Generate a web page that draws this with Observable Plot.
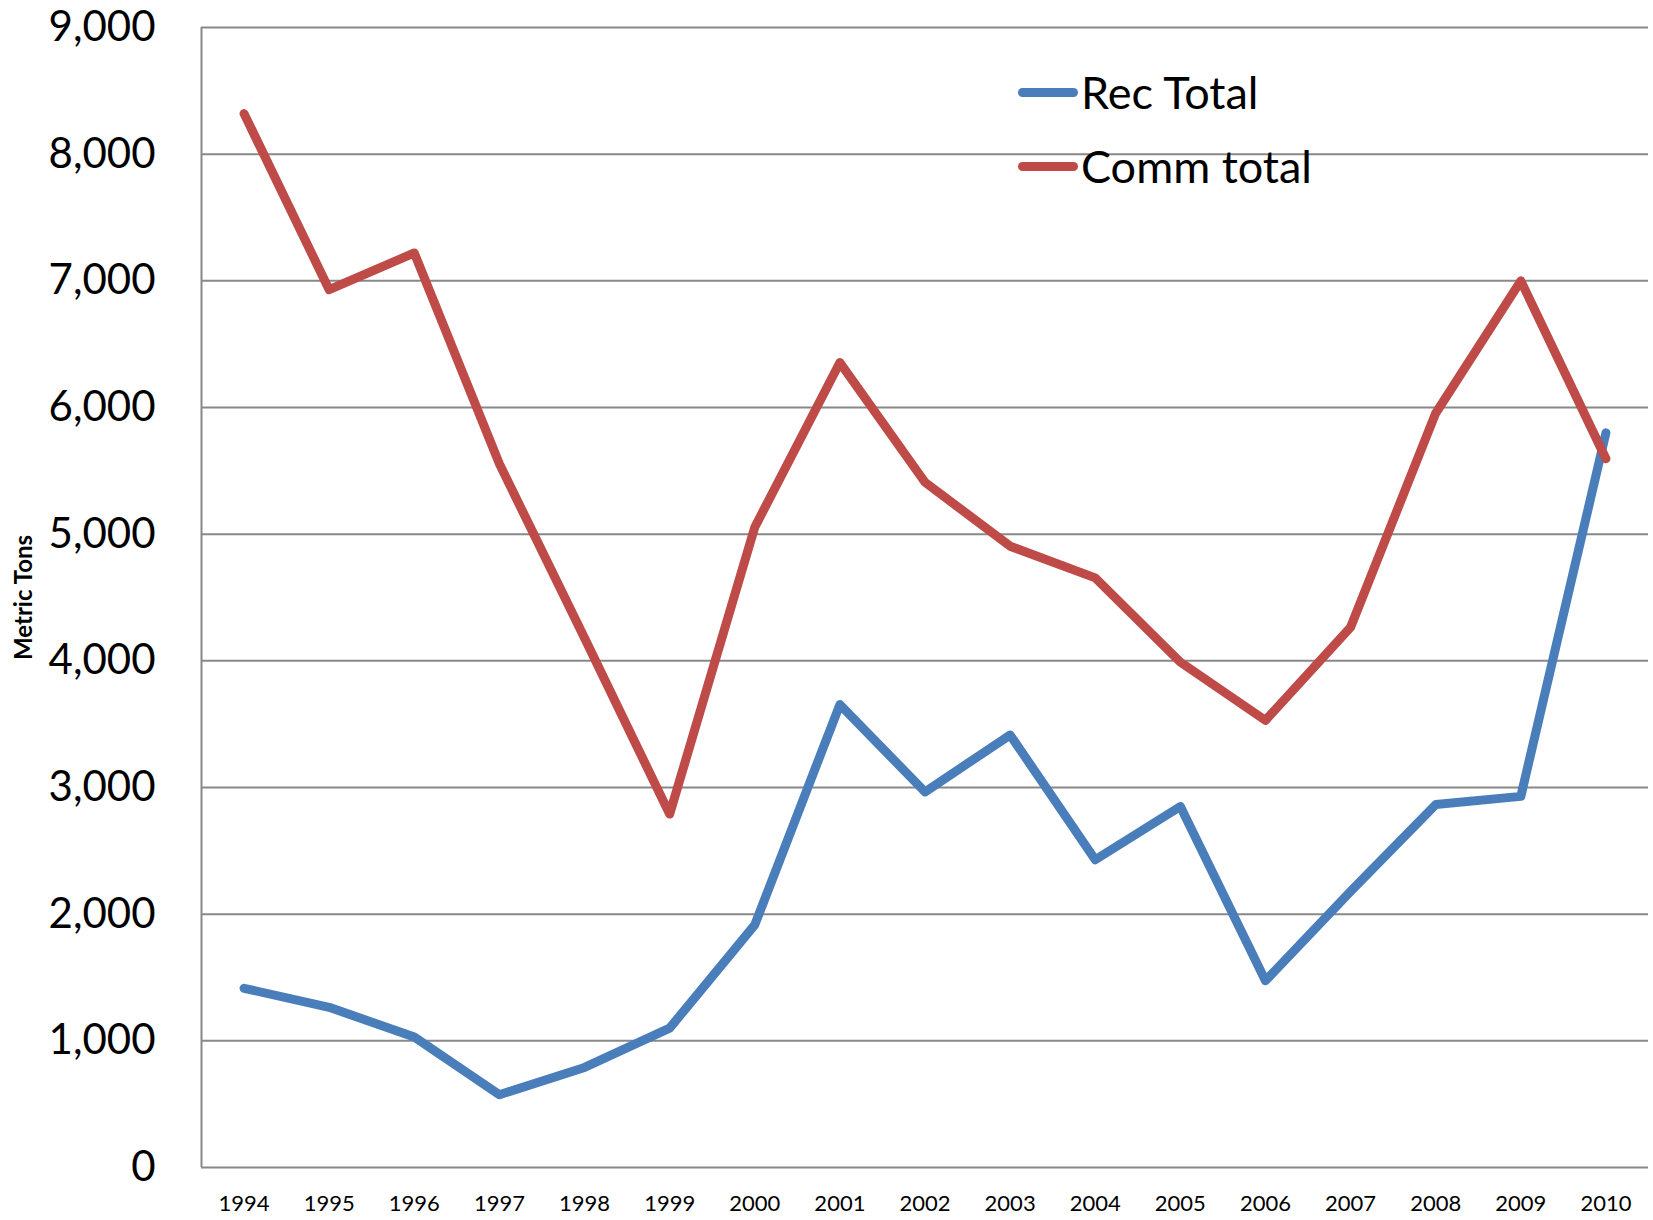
<!DOCTYPE html>
<html>
<head>
<meta charset="utf-8">
<script src="https://cdn.jsdelivr.net/npm/d3@7"></script>
<script src="https://cdn.jsdelivr.net/npm/@observablehq/plot@0.6"></script>
<style>
  body { margin: 0; background: #fff; }
  #wrap { position: relative; width: 1653px; height: 1220px; font-family: Lato, sans-serif; }
  .legend { position: absolute; left: 1018px; top: 55px; }
  .item { display: flex; align-items: center; height: 74px; font-size: 45px; color: #000; }
  .swatch { width: 60px; height: 9px; border-radius: 5px; margin-right: 3px; }
</style>
</head>
<body>
<div id="wrap"></div>
<script>
const years = [1994,1995,1996,1997,1998,1999,2000,2001,2002,2003,2004,2005,2006,2007,2008,2009,2010];
const recTotal = [1415,1265,1030,575,790,1100,1915,3655,2965,3415,2430,2850,1475,2180,2865,2930,5800];
const commTotal = [8320,6930,7220,5555,4180,2790,5055,6355,5410,4905,4655,3990,3530,4265,5955,7000,5595];
const seriesNames = ["Rec Total", "Comm total"];
const seriesColors = ["#4a7ebb", "#be4b48"];
const yTicks = [0,1000,2000,3000,4000,5000,6000,7000,8000,9000];

const rows = [];
years.forEach((y, i) => {
  rows.push({year: y, value: recTotal[i], series: seriesNames[0]});
  rows.push({year: y, value: commTotal[i], series: seriesNames[1]});
});

const gridColor = "#888888";

const chart = Plot.plot({
  width: 1653,
  height: 1220,
  marginLeft: 201,
  marginRight: 5,
  marginTop: 27,
  marginBottom: 53,
  style: {fontFamily: "Lato, sans-serif", background: "#fff", color: "#000"},
  x: {type: "linear", domain: [years[0] - 0.5, years[years.length - 1] + 0.5]},
  y: {domain: [0, 9000]},
  color: {domain: seriesNames, range: seriesColors},
  marks: [
    Plot.gridY(yTicks, {stroke: gridColor, strokeOpacity: 1, strokeWidth: 2}),
    Plot.ruleX([years[0] - 0.5], {stroke: gridColor, strokeWidth: 2}),
    Plot.axisY({ticks: yTicks, tickSize: 0, tickPadding: 46, fontSize: 42, tickFormat: d3.format(","), label: null}),
    Plot.axisX({ticks: years, tickSize: 0, tickPadding: 28, fontSize: 22, tickFormat: d => String(d), label: null}),
    Plot.text(["Metric Tons"], {frameAnchor: "left", rotate: -90, dx: -177, textAnchor: "middle", lineAnchor: "middle", fontSize: 24, fontWeight: "bold", fill: "#000"}),
    Plot.line(rows, {x: "year", y: "value", z: "series", stroke: "series", strokeWidth: 9, strokeLinecap: "round", strokeLinejoin: "round"})
  ]
});

const wrap = document.getElementById("wrap");
wrap.appendChild(chart);

const legend = document.createElement("div");
legend.className = "legend";
seriesNames.forEach((name, i) => {
  const item = document.createElement("div");
  item.className = "item";
  const sw = document.createElement("div");
  sw.className = "swatch";
  sw.style.background = seriesColors[i];
  const lab = document.createElement("span");
  lab.textContent = name;
  item.appendChild(sw);
  item.appendChild(lab);
  legend.appendChild(item);
});
wrap.appendChild(legend);
</script>
</body>
</html>
